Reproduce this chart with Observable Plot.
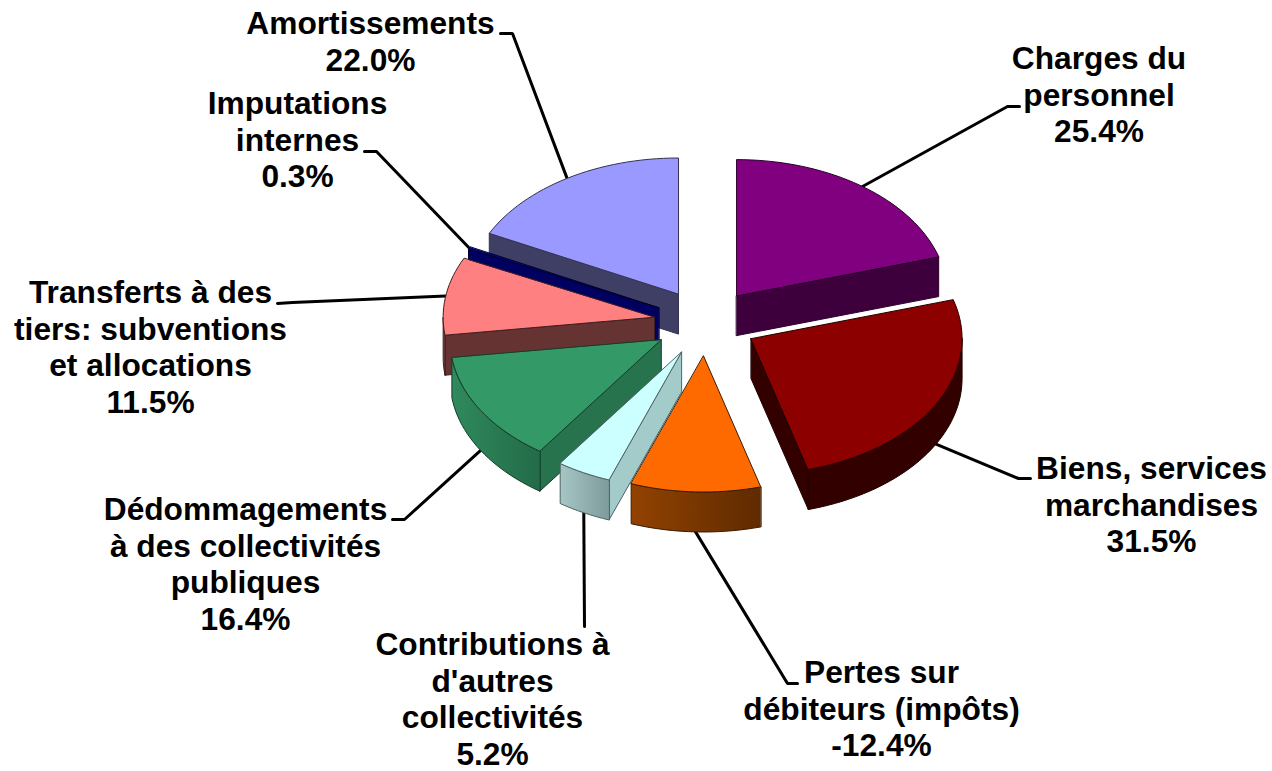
<!DOCTYPE html>
<html>
<head>
<meta charset="utf-8">
<style>html,body{margin:0;padding:0;background:#fff;overflow:hidden}svg{display:block}</style>
<script src="https://cdn.jsdelivr.net/npm/d3@7"></script>
<script src="https://cdn.jsdelivr.net/npm/@observablehq/plot@0.6"></script>
</head>
<body>
<div id="chart"></div>
<script>
// Data
const categories = ["Charges du\npersonnel","Biens, services\nmarchandises","Pertes sur\ndébiteurs (impôts)","Contributions à\nd'autres\ncollectivités","Dédommagements\nà des collectivités\npubliques","Transferts à des\ntiers: subventions\net allocations","Imputations\ninternes","Amortissements"];
const values = [25.4,31.5,-12.4,5.2,16.4,11.5,0.3,22.0];

// Styles, one per category
const topColors  = ["#800080","#8c0000","#ff6a00","#ccffff","#339966","#ff8080","#000080","#9999ff"];
const sideColors = ["#3d003d","#330000","#7a3600","#a2cbca","#26734d","#663333","#000060","#3f3f66"];
const wallEdge   = [["#3d003d","#3d003d"],["#330000","#330000"],["#924200","#5f2b00"],["#a6c6c6","#7f9b9b"],["#2f8a5c","#236b49"],["#8f5a5a","#663333"],["#000060","#000060"],["#3f3f66","#3f3f66"]];
const outlines   = ["#2a002a","#200000","#3a1c00","#4f6262","#143d29","#402020","#000030","#33334f"];

// Layout
const cx = 705, cy = 322, rx = 211, ry = 136, depth = 40, explode = 52;
const fontSize = 31.7, lineEm = 1.155;
const drawOrder = [7,6,5,4,0,1,3,2];
const labelCx = [1098.5,1151,881,492,245,150,297,370];
const labelFirstLine = [57,467,671,643,508,291,102,22];
const leaderStart = [[1019,106],[1030,478],[797,683],[584,626],[392,519],[277,303],[364,151],[500,33]];
const leaderElbow = [[1007,106],[1018,478],[787,683],[null,null],[404,519],[292,302],[376,151],[512,33]];

// Geometry derived from the values
const total = d3.sum(values, Math.abs);
let acc = 0;
const slices = values.map((v, i) => {
  const a0 = acc / total * 360; acc += Math.abs(v); const a1 = acc / total * 360;
  const mid = (a0 + a1) / 2, m = mid * Math.PI / 180;
  return {i, a0, a1, mid, ax: cx + explode * Math.sin(m), ay: cy - explode * ry / rx * Math.cos(m)};
});
const rim = (s, deg, dz = 0) => {
  const t = deg * Math.PI / 180;
  return [s.ax + rx * Math.sin(t), s.ay - ry * Math.cos(t) + dz];
};
const arcPts = (s, a, b, dz = 0) => {
  const n = Math.max(2, Math.ceil(Math.abs(b - a) / 2));
  return d3.range(n + 1).map(k => rim(s, a + (b - a) * k / n, dz));
};
const topPoly  = s => [[s.ax, s.ay], ...arcPts(s, s.a0, s.a1)];
const radial   = (s, a) => [[s.ax, s.ay], rim(s, a), rim(s, a, depth), [s.ax, s.ay + depth]];
const outerPoly = (s, a, b) => [...arcPts(s, a, b), ...arcPts(s, b, a, depth)];

const poly = (pts, fill, stroke) =>
  Plot.line(pts.map(p => ({x: p[0], y: p[1]})), {x: "x", y: "y", fill, stroke, strokeWidth: 1, strokeLinejoin: "round", curve: "linear-closed"});

const sliceMarks = drawOrder.flatMap(i => {
  const s = slices[i], out = [];
  const stroke = outlines[i];
  if (s.a0 > 180) out.push(poly(radial(s, s.a0), sideColors[i], stroke));
  if (s.a1 < 180) out.push(poly(radial(s, s.a1), sideColors[i], stroke));
  const lo = Math.max(s.a0, 90), hi = Math.min(s.a1, 270);
  if (hi > lo) out.push(poly(outerPoly(s, lo, hi), `url(#wall${i})`, stroke));
  out.push(poly(topPoly(s), topColors[i], stroke));
  return out;
});

// Leader lines: label end, optional elbow, then the slice rim at its middle angle
const leaders = slices.flatMap(s => {
  const front = s.mid > 90 && s.mid < 270;
  const e = rim(s, s.mid, front ? depth : 0);
  const pts = [leaderStart[s.i], leaderElbow[s.i], e].filter(p => p[0] !== null);
  return pts.map(p => ({id: s.i, x: p[0], y: p[1]}));
});

const labels = slices.map(s => {
  const text = categories[s.i] + "\n" + values[s.i].toFixed(1) + "%";
  const lines = text.split("\n").length;
  return {x: labelCx[s.i], y: labelFirstLine[s.i] + (lines - 1) / 2 * fontSize * lineEm, text};
});

const defsMark = () => {
  const d = d3.create("svg:defs");
  wallEdge.forEach((c, i) => {
    const g = d.append("linearGradient").attr("id", `wall${i}`);
    g.append("stop").attr("offset", 0).attr("stop-color", c[0]);
    g.append("stop").attr("offset", 1).attr("stop-color", c[1]);
  });
  return d.node();
};

const chart = Plot.plot({
  width: 1272, height: 771,
  margin: 0,
  x: {domain: [0, 1272], range: [0, 1272], axis: null},
  y: {domain: [0, 771], range: [0, 771], axis: null},
  style: {background: "#fff"},
  marks: [
    defsMark,
    Plot.line(leaders, {x: "x", y: "y", z: "id", stroke: "#000", strokeWidth: 3, strokeLinejoin: "miter"}),
    ...sliceMarks,
    Plot.text(labels, {x: "x", y: "y", text: "text", fontSize, fontWeight: "bold", fontFamily: "Liberation Sans", fill: "#000", lineHeight: lineEm, textAnchor: "middle", lineAnchor: "middle"})
  ]
});
document.getElementById("chart").appendChild(chart);
</script>
</body>
</html>
